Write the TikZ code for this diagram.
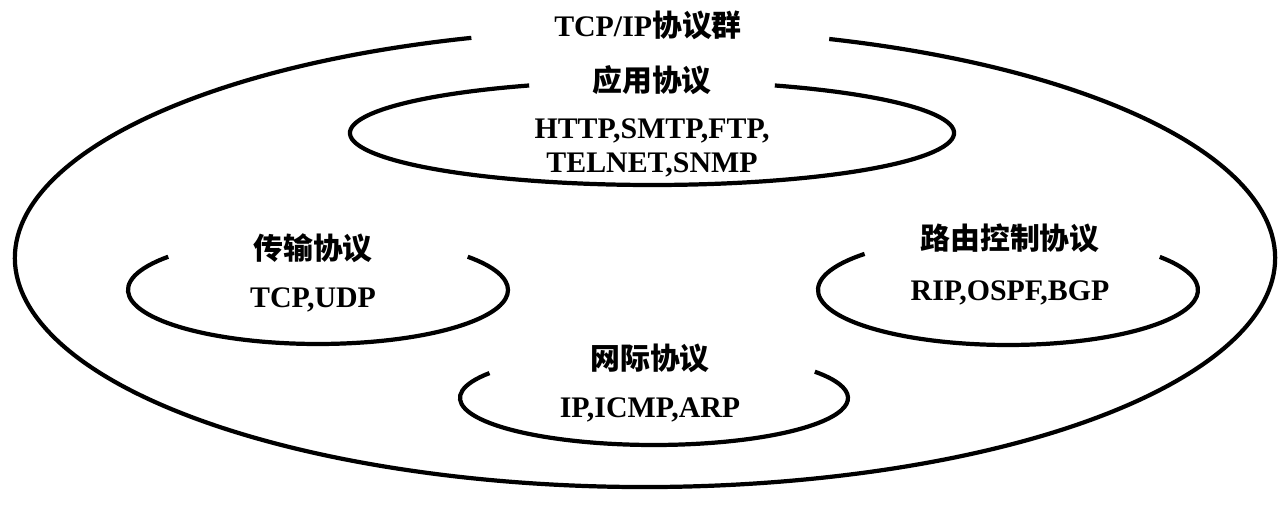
\documentclass[tikz,border=0pt]{standalone}
\usepackage{fontspec}
\setmainfont{Liberation Serif}
\newfontfamily\cjk{Noto Sans CJK SC}
\begin{document}
\begin{tikzpicture}[x=0.02cm,y=0.02cm,
  ring/.style={line width=2.4pt},
  lab/.style={font=\fontsize{17}{21}\selectfont\bfseries, align=center, inner sep=0pt}]
\useasboundingbox (0,0) rectangle (1286,509);
% big
\draw[ring] (645,251) ++(106:630 and 229) arc[start angle=106,end angle=433,x radius=630,y radius=229];
\node[lab] (title) at (648,484) {TCP/IP{\cjk 协议群}};
% application
\draw[ring] (652,376) ++(114:302 and 52) arc[start angle=114,end angle=426,x radius=302,y radius=52];
\node[lab] (app) at (652,429) {\cjk 应用协议};
\node[lab] (apptxt) at (652,361) {HTTP,SMTP,FTP,\\[-2pt]TELNET,SNMP};
% transport
\draw[ring] (318,219) ++(142:190 and 54) arc[start angle=142,end angle=398,x radius=190,y radius=54];
\node[lab] (tr) at (313,261) {\cjk 传输协议};
\node[lab] (trtxt) at (313,209) {TCP,UDP};
% routing
\draw[ring] (1008,219) ++(139:190 and 55) arc[start angle=139,end angle=397,x radius=190,y radius=55];
\node[lab] (rt) at (1010,271) {\cjk 路由控制协议};
\node[lab] (rttxt) at (1010,216) {RIP,OSPF,BGP};
% network
\draw[ring] (654,111) ++(148:194 and 47) arc[start angle=148,end angle=394,x radius=194,y radius=47];
\node[lab] (nw) at (650,151) {\cjk 网际协议};
\node[lab] (nwtxt) at (650,99) {IP,ICMP,ARP};
\end{tikzpicture}
\end{document}
